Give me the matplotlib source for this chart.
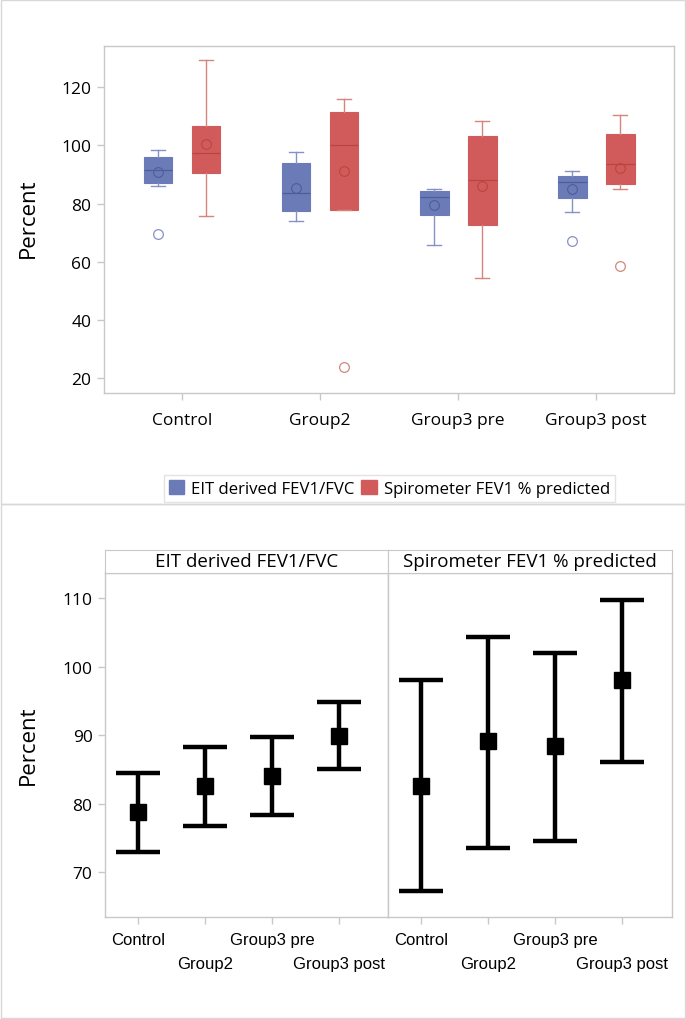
import matplotlib
matplotlib.use("Agg")
import matplotlib.pyplot as plt
from matplotlib.patches import Patch, Rectangle
import numpy as np

# ---------------- data ----------------
categories = ["Control", "Group2", "Group3 pre", "Group3 post"]
series = ["EIT derived FEV1/FVC", "Spirometer FEV1 % predicted"]

eit_whislo = [86.0, 73.9, 65.7, 77.2]
eit_q1 = [87.0, 77.6, 76.0, 81.8]
eit_med = [91.4, 83.5, 82.2, 87.3]
eit_q3 = [96.1, 94.0, 84.2, 89.4]
eit_whishi = [98.5, 97.6, 85.1, 91.3]
eit_mean = [90.7, 85.4, 79.4, 85.0]
eit_out = [[69.7], [], [], [67.3]]

spi_whislo = [75.6, 77.9, 54.4, 85.0]
spi_q1 = [90.6, 77.9, 72.8, 86.6]
spi_med = [97.3, 100.2, 88.0, 93.5]
spi_q3 = [106.8, 111.5, 103.1, 104.0]
spi_whishi = [129.2, 115.8, 108.3, 110.3]
spi_mean = [100.4, 91.1, 86.1, 92.2]
spi_out = [[], [24.0], [], [58.7]]

eit_ci_mean = [78.8, 82.6, 84.1, 89.9]
eit_ci_low = [73.0, 76.7, 78.4, 85.1]
eit_ci_high = [84.45, 88.25, 89.8, 94.8]
spi_ci_mean = [82.6, 89.1, 88.5, 98.0]
spi_ci_low = [67.2, 73.5, 74.6, 86.1]
spi_ci_high = [98.0, 104.3, 102.0, 109.7]

top_yticks = [20, 40, 60, 80, 100, 120]
bot_yticks = [70, 80, 90, 100, 110]

# ---------------- style ----------------
plt.rcParams['font.family'] = ['Open Sans', 'DejaVu Sans']
W, H = 686, 1020
fig = plt.figure(figsize=(W / 100, H / 100), dpi=100)
GRAY = "#c8c8c8"
BLUE = "#6b7bb7"
RED = "#d15b5b"
BLUE_L = "#8891c4"
RED_L = "#d4867e"
BLUE_D = "#4d5d98"
RED_D = "#b8463f"


def fx(px):
    return px / W


def fy(py):
    return 1 - py / H


def style_axes(ax):
    for s in ax.spines.values():
        s.set_color(GRAY)
        s.set_linewidth(1.0)
    ax.tick_params(which='both', color=GRAY, length=5, width=1, labelsize=12.5, pad=4)


# ---------------- top box plot ----------------
ax = fig.add_axes([fx(104), fy(394), fx(674.3) - fx(104), fy(46.7) - fy(394)])
style_axes(ax)
x = np.arange(len(categories))
off, bw = 0.174, 0.208


def make_stats(lo, q1, med, q3, hi, mean, out):
    return [dict(whislo=lo[i], q1=q1[i], med=med[i], q3=q3[i], whishi=hi[i],
                 mean=mean[i], fliers=out[i]) for i in range(len(lo))]


for stats, pos, fc, lc, dc in [
    (make_stats(eit_whislo, eit_q1, eit_med, eit_q3, eit_whishi, eit_mean, eit_out), x - off, BLUE, BLUE_L, BLUE_D),
    (make_stats(spi_whislo, spi_q1, spi_med, spi_q3, spi_whishi, spi_mean, spi_out), x + off, RED, RED_L, RED_D),
]:
    ax.bxp(stats, positions=pos, widths=bw, patch_artist=True, showmeans=True,
           capwidths=bw * 0.5,
           boxprops=dict(facecolor=fc, edgecolor=fc, linewidth=0.8),
           whiskerprops=dict(color=lc, linewidth=1.0),
           capprops=dict(color=lc, linewidth=1.0),
           medianprops=dict(color=dc, linewidth=0.9),
           meanprops=dict(marker='o', markerfacecolor='none', markeredgecolor=dc,
                          markersize=7, markeredgewidth=0.8),
           flierprops=dict(marker='o', markerfacecolor='none', markeredgecolor=lc,
                           markersize=7, markeredgewidth=0.9))

ax.set_xlim(-0.565, 3.565)
ax.set_ylim(15.0, 134.2)
ax.set_xticks(x)
ax.set_xticklabels(categories)
ax.tick_params(axis='x', pad=9)
ax.set_yticks(top_yticks)
fig.text(fx(28), fy(218), "Percent", rotation=90, ha='center', va='center', fontsize=16)

handles = [Patch(facecolor=BLUE, edgecolor=BLUE), Patch(facecolor=RED, edgecolor=RED)]
leg = fig.legend(handles, series, loc='center', bbox_to_anchor=(fx(389.5), fy(489.5)),
                 ncol=2, frameon=True, fancybox=False, fontsize=12.1,
                 handlelength=0.9, handleheight=0.9, handletextpad=0.45,
                 columnspacing=0.4, borderpad=0.3, borderaxespad=0)
leg.get_frame().set_edgecolor("#dcdcdc")
leg.get_frame().set_linewidth(1.0)

# ---------------- bottom panels ----------------
pb, pt = fy(917.7), fy(574)
left_ax = fig.add_axes([fx(105), pb, fx(388) - fx(105), pt - pb])
right_ax = fig.add_axes([fx(388), pb, fx(672) - fx(388), pt - pb], sharey=left_ax)
row1 = x[0::2]
row2 = x[1::2]

for a, m, lo, hi, title in [
    (left_ax, eit_ci_mean, eit_ci_low, eit_ci_high, series[0]),
    (right_ax, spi_ci_mean, spi_ci_low, spi_ci_high, series[1]),
]:
    style_axes(a)
    m = np.array(m); lo = np.array(lo); hi = np.array(hi)
    a.errorbar(x, m, yerr=[m - lo, hi - m], fmt='s', color='black', ms=12,
               capsize=16, elinewidth=3.2, capthick=3.2)
    a.set_xlim(-0.5, 3.74)
    a.set_xticks(row1)
    a.set_xticklabels([categories[i] for i in row1], fontfamily='Liberation Sans', fontsize=12)
    a.set_xticks(row2, minor=True)
    a.set_xticklabels([categories[i] for i in row2], minor=True,
                      fontfamily='Liberation Sans', fontsize=12)
    a.tick_params(axis='x', which='major', pad=6)
    a.tick_params(axis='x', which='minor', pad=23)
    # header strip
    pos = a.get_position()
    hax = fig.add_axes([pos.x0, fy(574), pos.width, fy(550.7) - fy(574)])
    hax.set_xticks([]); hax.set_yticks([])
    for s in hax.spines.values():
        s.set_color(GRAY)
    hax.text(0.5, 0.5, title, ha='center', va='center', fontsize=13.5,
             transform=hax.transAxes)

left_ax.set_ylim(63.5, 113.7)
left_ax.set_yticks(bot_yticks)
right_ax.tick_params(axis='y', left=False, labelleft=False)
fig.text(fx(28), fy(745), "Percent", rotation=90, ha='center', va='center', fontsize=16)

# ---------------- image borders ----------------
fig.add_artist(Rectangle((fx(0.5), fy(505)), fx(684.5), fy(0.5) - fy(505),
                         transform=fig.transFigure, fill=False, edgecolor="#d8d8d8", lw=1))
fig.add_artist(Rectangle((fx(0.5), fy(1018.5)), fx(684.5), fy(505) - fy(1018.5),
                         transform=fig.transFigure, fill=False, edgecolor="#d8d8d8", lw=1))

fig.savefig("out.png", dpi=100)
